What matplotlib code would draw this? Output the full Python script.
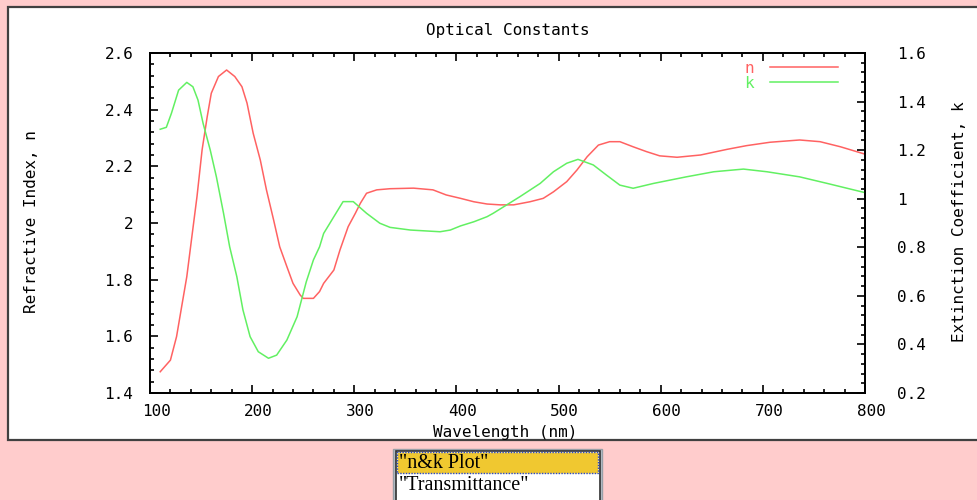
import numpy as np
import matplotlib
matplotlib.use("Agg")
import matplotlib.pyplot as plt
import matplotlib.transforms as mtransforms
from matplotlib.patches import Rectangle
from matplotlib.ticker import MultipleLocator, FuncFormatter

# n (refractive index)
wl_n = [110, 120, 126, 131, 136, 141, 146, 151, 156, 160, 167, 175, 183, 190, 195,
        201, 208, 214, 221, 227, 234, 240, 247, 250, 260, 266, 270, 280, 286, 294,
        301, 306, 312, 322, 335, 358, 377, 390, 404, 417, 430, 443, 456, 472, 485,
        495, 508, 518, 528, 539, 550, 560, 573, 586, 599, 616, 639, 665, 684, 707,
        736, 756, 776, 800]
n_vals = [1.475, 1.516, 1.599, 1.705, 1.81, 1.952, 2.093, 2.258, 2.375, 2.458,
          2.517, 2.54, 2.517, 2.481, 2.423, 2.317, 2.222, 2.117, 2.011, 1.916,
          1.846, 1.787, 1.746, 1.734, 1.734, 1.758, 1.787, 1.834, 1.905, 1.987,
          2.034, 2.07, 2.105, 2.117, 2.121, 2.123, 2.117, 2.099, 2.087, 2.075,
          2.067, 2.064, 2.064, 2.075, 2.087, 2.11, 2.146, 2.187, 2.234, 2.275,
          2.287, 2.287, 2.269, 2.252, 2.237, 2.232, 2.24, 2.26, 2.273, 2.285,
          2.293, 2.287, 2.269, 2.243]

# k (extinction coefficient)
wl_k = [110, 116, 121, 128, 136, 142, 147, 152, 159, 165, 172, 178, 185, 191, 198,
        206, 216, 224, 234, 244, 253, 260, 266, 270, 280, 289, 299, 312, 325, 335,
        355, 384, 394, 404, 417, 430, 436, 449, 462, 482, 495, 508, 519, 534, 547,
        560, 573, 593, 625, 652, 681, 704, 736, 763, 800]
k_vals = [1.286, 1.294, 1.352, 1.447, 1.479, 1.461, 1.406, 1.31, 1.2, 1.09, 0.94,
          0.802, 0.679, 0.542, 0.432, 0.37, 0.343, 0.356, 0.418, 0.514, 0.658,
          0.748, 0.802, 0.857, 0.926, 0.988, 0.988, 0.94, 0.899, 0.882, 0.871,
          0.864, 0.871, 0.888, 0.905, 0.926, 0.94, 0.974, 1.008, 1.063, 1.111,
          1.146, 1.162, 1.139, 1.097, 1.056, 1.043, 1.063, 1.09, 1.111, 1.122,
          1.111, 1.09, 1.063, 1.025]

list_items = ['"n&k Plot"', '"Transmittance"']

W, H = 978, 500
PINK = "#ffcccc"
RED = "#ff6262"
GREEN = "#62f062"
mono = "DejaVu Sans Mono"
FS = 11.5


def fx(x):
    return x / W


def fy(y):
    return 1 - y / H


def prect(fig, x0, y0, x1, y1, **kw):
    r = Rectangle((fx(x0), fy(y1)), fx(x1) - fx(x0), fy(y0) - fy(y1),
                  transform=fig.transFigure, **kw)
    fig.patches.append(r)
    return r


fig = plt.figure(figsize=(W / 100, H / 100), dpi=100, facecolor=PINK)

# white panel behind the chart
prect(fig, 8, 7, 990, 440, facecolor="white", edgecolor="#404040", linewidth=1.6,
      zorder=-5)

ax = fig.add_axes([fx(150), fy(393), fx(865) - fx(150), fy(53) - fy(393)])
ax2 = ax.twinx()

l1, = ax.plot(wl_n, n_vals, color=RED, lw=1.1, label="n")
l2, = ax2.plot(wl_k, k_vals, color=GREEN, lw=1.1, label="k")

ax.set_xlim(100, 800)
ax.set_ylim(1.4, 2.6)
ax2.set_ylim(0.2, 1.6)

ax.xaxis.set_major_locator(MultipleLocator(100))
ax.xaxis.set_minor_locator(MultipleLocator(20))
ax.yaxis.set_major_locator(MultipleLocator(0.2))
ax.yaxis.set_minor_locator(MultipleLocator(0.04))
ax2.yaxis.set_major_locator(MultipleLocator(0.2))
ax2.yaxis.set_minor_locator(MultipleLocator(0.04))

fmt = FuncFormatter(lambda v, p: "%g" % round(v, 2))
ax.yaxis.set_major_formatter(fmt)
ax2.yaxis.set_major_formatter(fmt)

for a in (ax, ax2):
    for s in a.spines.values():
        s.set_linewidth(1.3)
        s.set_color("black")

ax.tick_params(axis="x", which="both", direction="in", top=True, bottom=True,
               labelsize=FS, pad=8)
ax.tick_params(axis="y", which="both", direction="in", left=True, right=False,
               labelsize=FS, pad=12)
ax2.tick_params(axis="y", which="both", direction="in", right=True, left=False,
                labelsize=FS, pad=23)
for a in (ax, ax2):
    a.tick_params(which="major", length=6, width=1.2)
    a.tick_params(which="minor", length=3, width=1.2)
for t in ax.get_xticklabels() + ax.get_yticklabels() + ax2.get_yticklabels():
    t.set_family(mono)

# x labels sit a little right of their ticks in the original
shift = mtransforms.ScaledTranslation(6 / 100, 0, fig.dpi_scale_trans)
for t in ax.get_xticklabels():
    t.set_transform(t.get_transform() + shift)

fig.text(fx(508), fy(30), "Optical Constants", family=mono, fontsize=FS,
         ha="center", va="center")
fig.text(fx(505), fy(432), "Wavelength (nm)", family=mono, fontsize=FS,
         ha="center", va="center")
fig.text(fx(32), fy(222), "Refractive Index, n", family=mono, fontsize=FS,
         rotation=90, ha="center", va="center")
fig.text(fx(960), fy(222), "Extinction Coefficient, k", family=mono, fontsize=FS,
         rotation=90, ha="center", va="center")

leg = ax2.legend(handles=[l1, l2], loc="upper right", bbox_to_anchor=(0.983, 1.02),
                 frameon=False, markerfirst=False, handlelength=4.3,
                 labelspacing=0.0, handletextpad=1.0,
                 prop={"family": mono, "size": FS})
for txt, c in zip(leg.get_texts(), (RED, GREEN)):
    txt.set_color(c)

# list box under the chart
prect(fig, 393, 449, 602, 502, facecolor="#b8c0c8", edgecolor="#98a0a8", linewidth=1)
prect(fig, 396, 451, 600, 502, facecolor="white", edgecolor="#303030", linewidth=1.2)
prect(fig, 397, 452, 598, 473, facecolor="#f0c830", edgecolor="#2848c8",
      linewidth=1, linestyle=(0, (1, 1)))
fig.text(fx(399), fy(468), list_items[0], family="Liberation Serif", fontsize=14.5,
         ha="left", va="baseline")
fig.text(fx(399), fy(490), list_items[1], family="Liberation Serif", fontsize=14.5,
         ha="left", va="baseline")

fig.savefig("out.png", dpi=100, facecolor=PINK)
